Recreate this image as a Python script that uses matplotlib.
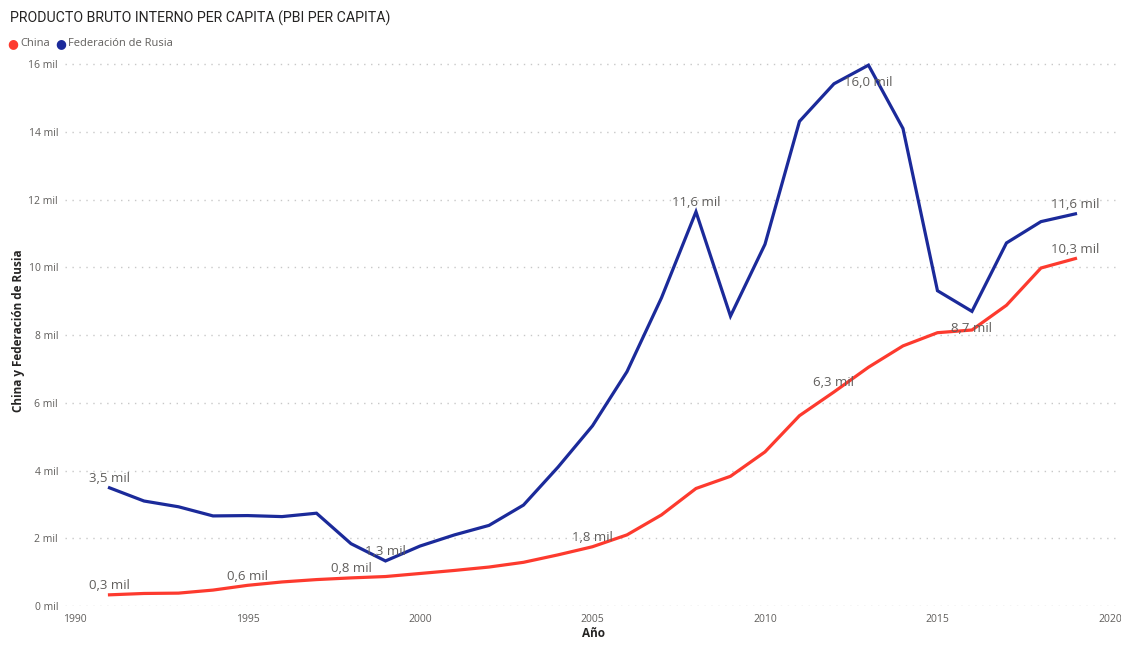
import matplotlib
matplotlib.use("Agg")
import matplotlib.pyplot as plt
from matplotlib.ticker import FixedLocator

years = list(range(1991, 2020))
china = [0.33, 0.37, 0.38, 0.47, 0.61, 0.71, 0.78, 0.83, 0.87, 0.96,
         1.05, 1.15, 1.29, 1.51, 1.75, 2.10, 2.69, 3.47, 3.83, 4.55,
         5.62, 6.32, 7.05, 7.68, 8.07, 8.15, 8.88, 9.98, 10.26]
rusia = [3.49, 3.10, 2.93, 2.66, 2.67, 2.64, 2.74, 1.84, 1.33, 1.77,
         2.10, 2.38, 2.98, 4.10, 5.32, 6.92, 9.10, 11.64, 8.56, 10.68,
         14.31, 15.42, 15.97, 14.10, 9.31, 8.70, 10.72, 11.35, 11.58]

y_ticks = [0, 2, 4, 6, 8, 10, 12, 14, 16]
x_ticks = [1990, 1995, 2000, 2005, 2010, 2015, 2020]

# labelled points: (year, placement)
china_labels = [(1991, "above"), (1995, "above"), (1998, "above"),
                (2005, "above"), (2012, "above"), (2019, "above")]
rusia_labels = [(1991, "above"), (1999, "above"), (2008, "above"),
                (2013, "below"), (2016, "below"), (2019, "above")]

RED = "#FD3A2E"
BLUE = "#1B2A9A"
GRAY = "#605E5C"
FONT = "Open Sans"


def fmt(v):
    return f"{v:.1f}".replace(".", ",") + " mil"


fig = plt.figure(figsize=(11.21, 6.55), dpi=100)
ax = fig.add_axes([65 / 1121, 49 / 655, 1056 / 1121, 551 / 655])

ax.plot(years, rusia, color=BLUE, lw=2.3, solid_joinstyle="miter", zorder=3)
ax.plot(years, china, color=RED, lw=2.3, solid_joinstyle="miter", zorder=3)

ax.set_xlim(1989.71, 2020.32)
ax.set_ylim(0, 16.27)
ax.yaxis.set_major_locator(FixedLocator(y_ticks))
ax.xaxis.set_major_locator(FixedLocator(x_ticks))
ax.set_yticklabels([f"{t} mil" for t in y_ticks])
ax.set_xticklabels([str(t) for t in x_ticks])
ax.tick_params(axis="both", length=0, labelsize=7.5, labelcolor=GRAY)
ax.tick_params(axis="y", pad=5)
ax.tick_params(axis="x", pad=6)
for lab in ax.get_xticklabels() + ax.get_yticklabels():
    lab.set_family(FONT)

ax.grid(axis="y", color="#C8C8C8", linestyle=(0, (1, 4)), lw=1)
ax.set_axisbelow(True)
for s in ax.spines.values():
    s.set_visible(False)

ax.set_xlabel("Año", fontsize=8.5, fontweight="bold", color="#252423",
              family=FONT, labelpad=1)
ax.set_ylabel("China y Federación de Rusia", fontsize=8.5, fontweight="bold",
              color="#252423", family=FONT, labelpad=2.5)


def annotate(series, labels):
    for yr, where in labels:
        v = series[years.index(yr)]
        off = 2 if where == "above" else -8
        ax.annotate(fmt(v), (yr, v), xytext=(0, off), textcoords="offset points",
                    ha="center", va="bottom" if where == "above" else "top",
                    fontsize=9.5, color=GRAY, family=FONT, zorder=4)


annotate(china, china_labels)
annotate(rusia, rusia_labels)

fig.text(10 / 1121, 1 - 18 / 655, "PRODUCTO BRUTO INTERNO PER CAPITA (PBI PER CAPITA)",
         fontsize=10.2, color="#252423", family="Roboto", va="center", ha="left")

# legend row
fig.text(13 / 1121, 1 - 44 / 655, "●", color=RED, fontsize=9, va="center", ha="center")
fig.text(20 / 1121, 1 - 44 / 655, "China", color=GRAY, fontsize=8, family=FONT,
         va="center", ha="left")
fig.text(61 / 1121, 1 - 44 / 655, "●", color=BLUE, fontsize=9, va="center", ha="center")
fig.text(68 / 1121, 1 - 44 / 655, "Federación de Rusia", color=GRAY, fontsize=8,
         family=FONT, va="center", ha="left")

fig.savefig("out.png", dpi=100, facecolor="white")
